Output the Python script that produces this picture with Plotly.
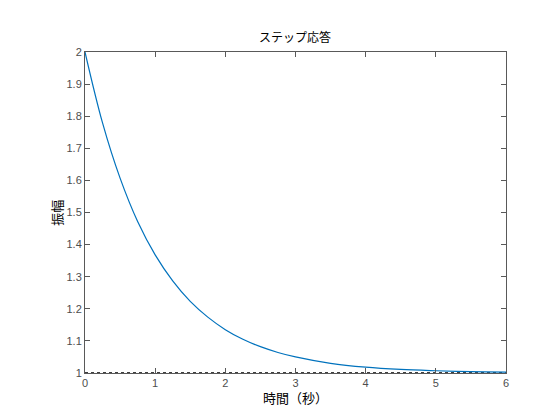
import plotly.graph_objects as go

t = [0, 0.25, 0.5, 0.75, 1.0, 1.25, 1.5, 1.75, 2.0, 2.25, 2.5, 2.75, 3.0, 3.5, 4.0, 4.5, 5.0, 5.5, 6.0]
amp = [2.000, 1.779, 1.607, 1.472, 1.368, 1.287, 1.223, 1.174, 1.135, 1.105, 1.082,
       1.064, 1.050, 1.030, 1.018, 1.011, 1.007, 1.004, 1.0025]
steady_t = [0, 6]
steady_y = [1, 1]
x_ticks = [0, 1, 2, 3, 4, 5, 6]
y_ticks = [1, 1.1, 1.2, 1.3, 1.4, 1.5, 1.6, 1.7, 1.8, 1.9, 2]
y_tick_text = ["1", "1.1", "1.2", "1.3", "1.4", "1.5", "1.6", "1.7", "1.8", "1.9", "2"]

fig = go.Figure()
fig.add_trace(go.Scatter(x=steady_t, y=steady_y, mode="lines",
                         line=dict(color="black", width=1.5, dash="dot"),
                         hoverinfo="skip", showlegend=False, cliponaxis=False))
fig.add_trace(go.Scatter(x=t, y=amp, mode="lines",
                         line=dict(color="#0072BD", width=1.2, shape="spline"),
                         showlegend=False))

axis_common = dict(showgrid=False, zeroline=False, showline=True, linecolor="#595959",
                   linewidth=1, mirror="ticks", ticks="inside", ticklen=5,
                   tickcolor="#595959", automargin=False,
                   tickfont=dict(family="Liberation Sans, Arial", size=11, color="#4d4d4d"))

label_font = dict(family="Noto Sans CJK JP", size=13, color="black")

fig.update_layout(
    width=560, height=420,
    margin=dict(l=85, r=54, t=52, b=47),
    paper_bgcolor="white", plot_bgcolor="white",
    title=dict(text="ステップ応答", x=0.527, xanchor="center", y=0.91, yanchor="middle",
               automargin=False,
               font=dict(family="Noto Sans CJK JP", size=12, color="black")),
    xaxis=dict(range=[0, 6], tickvals=x_ticks, **axis_common),
    yaxis=dict(range=[1, 2], tickvals=y_ticks, ticktext=y_tick_text, **axis_common),
    annotations=[
        dict(text="時間（秒）", xref="paper", yref="paper", x=0.5, y=-0.075,
             xanchor="center", yanchor="middle", showarrow=False, font=label_font),
        dict(text="振幅", xref="paper", yref="paper", x=-0.068, y=0.5, textangle=-90,
             xanchor="center", yanchor="middle", showarrow=False, font=label_font),
    ],
)

fig.write_html("out.html", config={"displayModeBar": False},
               post_script="document.body.style.margin='0px';document.body.style.overflow='hidden';")
